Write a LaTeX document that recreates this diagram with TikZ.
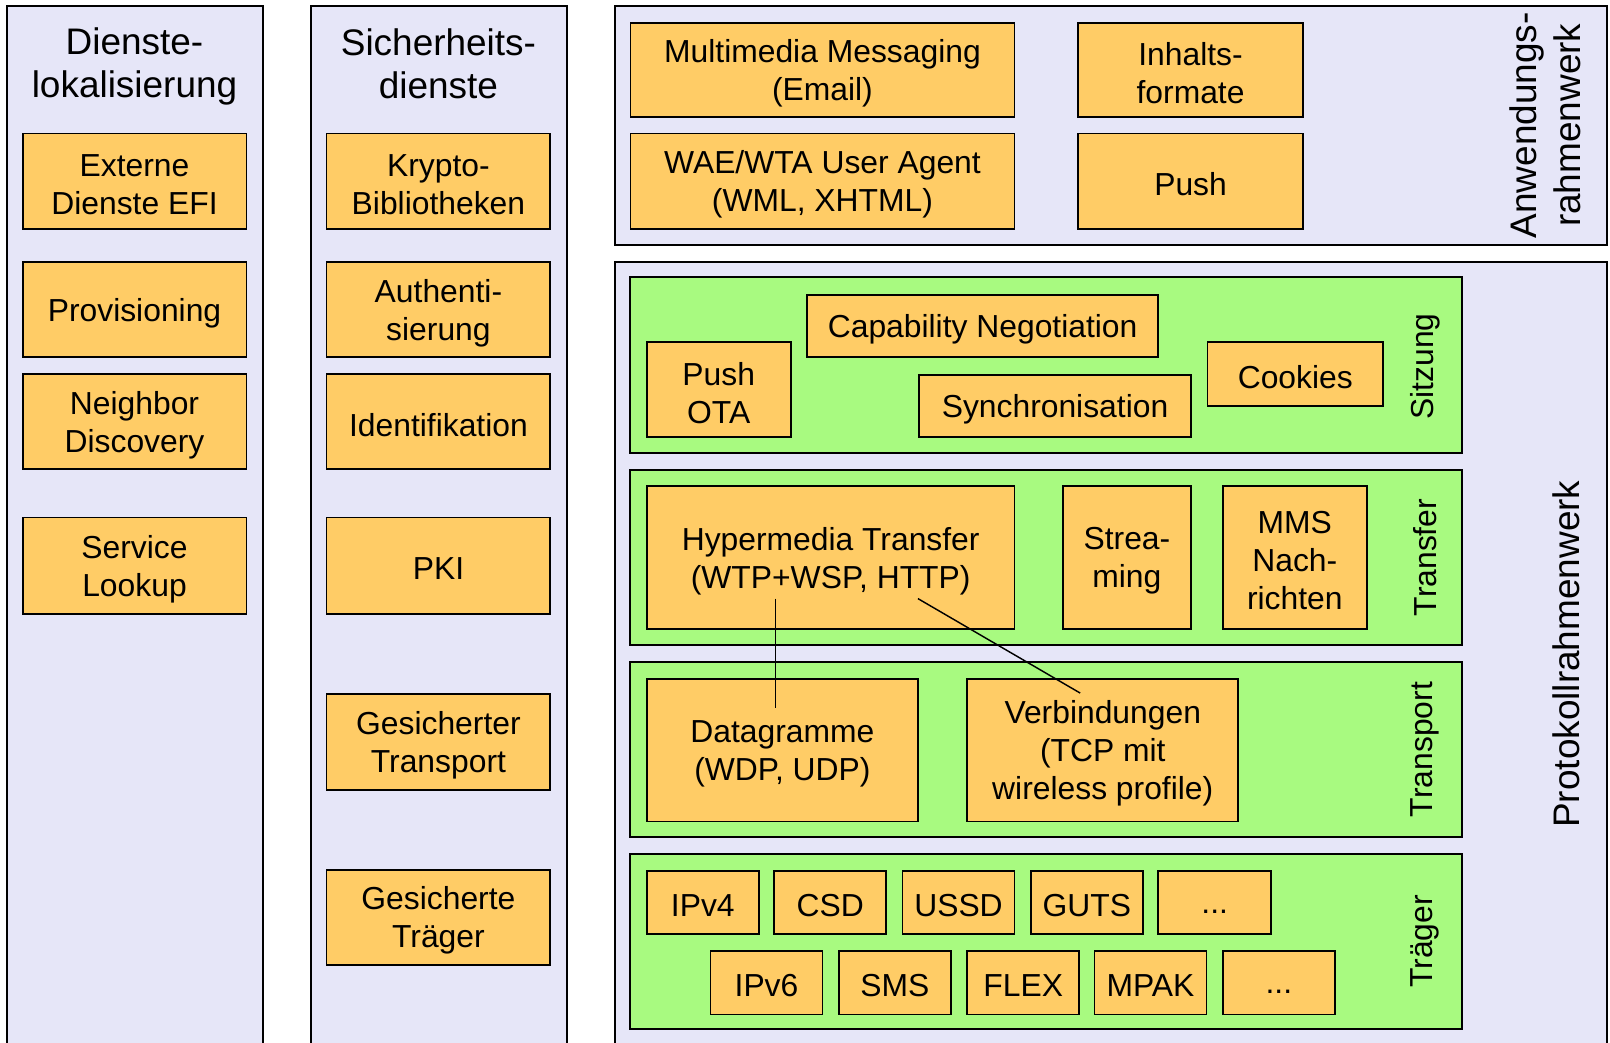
\documentclass[tikz,border=0pt]{standalone}
\usepackage{fontspec}
\setmainfont{Liberation Sans}
\definecolor{lav}{RGB}{230,230,248}
\definecolor{org}{RGB}{255,204,102}
\definecolor{grn}{RGB}{168,250,128}
\newcommand{\mybox}[6]{\node[box, minimum width={(#4-#2)*0.5pt}, minimum height={(#5-#3)*0.5pt}] (#1) at ({(#2+#4)/2},{(#3+#5)/2}) {};
  \node[btext] (#1t) at ([yshift=-1.6pt]#1.center) {#6};}
\begin{document}
\begin{tikzpicture}[x=0.5pt,y=-0.5pt,
  box/.style={draw=black, line width=0.9pt, fill=org, inner sep=0pt},
  btext/.style={inner sep=0pt, align=center, font=\fontsize{15.5}{18.5}\selectfont},
  frame/.style={draw=black, line width=1pt},
  layer/.style={draw=black, line width=1pt, fill=grn},
  title/.style={align=center, inner sep=0pt, font=\fontsize{18}{21}\selectfont},
  lbl/.style={rotate=90, inner sep=0pt, font=\fontsize{15.5}{18.5}\selectfont},
  conn/.style={draw=black, line width=0.7pt}]
\useasboundingbox (0,0) rectangle (1568,1015);
\clip (0,0) rectangle (1568,1015);
% columns
\fill[lav] (7,6) rectangle (256,1030);
\draw[frame] (7,1030) -- (7,6) -- (256,6) -- (256,1030);
\fill[lav] (303,6) rectangle (552,1030);
\draw[frame] (303,1030) -- (303,6) -- (552,6) -- (552,1030);
\node[title] (t1) at (131,65) {Dienste-\\lokalisierung};
\node[title] (t2) at (427,62) {Sicherheits-\\dienste};
% application framework
\draw[frame, fill=lav] (599,6) rectangle (1565,239);
\node[title, rotate=90] (t3) at (1505,122) {Anwendungs-\\rahmenwerk};
% protocol framework
\fill[lav] (599,255) rectangle (1565,1030);
\draw[frame] (599,1030) -- (599,255) -- (1565,255) -- (1565,1030);
\node[title, rotate=90] (t4) at (1525,637) {Protokollrahmenwerk};
% layers
\draw[layer] (614,270) rectangle (1424,441);
\draw[layer] (614,458) rectangle (1424,628);
\draw[layer] (614,645) rectangle (1424,815);
\draw[layer] (614,832) rectangle (1424,1002);
\node[lbl] (l1) at (1388,357) {Sitzung};
\node[lbl] (l2) at (1388,543) {Transfer};
\node[lbl] (l3) at (1388,730) {Transport};
\node[lbl] (l4) at (1388,917) {Träger};
% column 1
\mybox{e1}{22}{130}{240}{223}{Externe\\Dienste EFI}
\mybox{e2}{22}{255}{240}{348}{Provisioning}
\mybox{e3}{22}{364}{240}{457}{Neighbor\\Discovery}
\mybox{e4}{22}{504}{240}{598}{Service\\Lookup}
% column 2
\mybox{s1}{318}{130}{536}{223}{Krypto-\\Bibliotheken}
\mybox{s2}{318}{255}{536}{348}{Authenti-\\sierung}
\mybox{s3}{318}{364}{536}{457}{Identifikation}
\mybox{s4}{318}{504}{536}{598}{PKI}
\mybox{s5}{318}{676}{536}{769}{Gesicherter\\Transport}
\mybox{s6}{318}{847}{536}{940}{Gesicherte\\Träger}
% application
\mybox{a1}{614}{22}{988}{114}{Multimedia Messaging\\(Email)}
\mybox{a2}{614}{130}{988}{223}{WAE/WTA User Agent\\(WML, XHTML)}
\mybox{a3}{1050}{22}{1269}{114}{Inhalts-\\formate}
\mybox{a4}{1050}{130}{1269}{223}{Push}
% session
\mybox{p1}{630}{333}{770}{426}{Push\\OTA}
\mybox{p2}{786}{287}{1128}{348}{Capability Negotiation}
\mybox{p3}{895}{365}{1160}{426}{Synchronisation}
\mybox{p4}{1176}{333}{1347}{395}{Cookies}
% transfer
\mybox{h1}{630}{473}{988}{613}{Hypermedia Transfer\\(WTP+WSP, HTTP)}
\mybox{h2}{1035}{473}{1160}{613}{Strea-\\ming}
\mybox{h3}{1191}{473}{1331}{613}{MMS\\Nach-\\richten}
% transport
\mybox{d1}{630}{661}{894}{800}{Datagramme\\(WDP, UDP)}
\mybox{d2}{942}{661}{1206}{800}{Verbindungen\\(TCP mit\\wireless profile)}
% bearers
\mybox{b1}{630}{848}{739}{910}{IPv4}
\mybox{b2}{754}{848}{863}{910}{CSD}
\mybox{b3}{879}{848}{988}{910}{USSD}
\mybox{b4}{1004}{848}{1113}{910}{GUTS}
\mybox{b5}{1128}{848}{1238}{910}{\vphantom{Ag}...}
\mybox{b6}{692}{926}{801}{988}{IPv6}
\mybox{b7}{817}{926}{926}{988}{SMS}
\mybox{b8}{942}{926}{1051}{988}{FLEX}
\mybox{b9}{1066}{926}{1175}{988}{MPAK}
\mybox{b10}{1191}{926}{1300}{988}{\vphantom{Ag}...}
% connectors
\coordinate (v1) at (755,583);
\coordinate (v2) at (755,690);
\coordinate (w1) at (894,583);
\coordinate (w2) at (1052,675);
\draw[conn] (v1) -- (v2);
\draw[conn] (w1) -- (w2);
\end{tikzpicture}
\end{document}
